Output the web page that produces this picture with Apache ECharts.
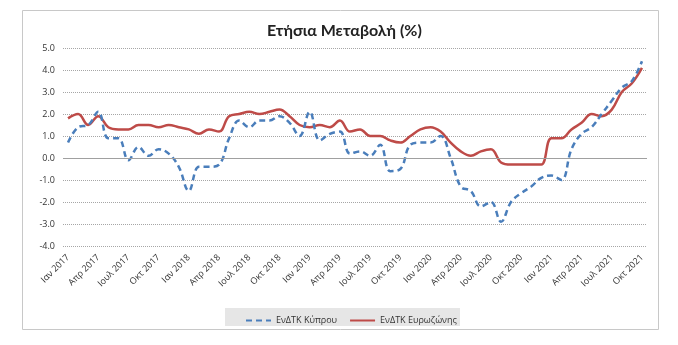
<!DOCTYPE html>
<html>
<head>
<meta charset="utf-8">
<script src="https://cdn.jsdelivr.net/npm/echarts@6/dist/echarts.min.js"></script>
<style>
html,body{margin:0;padding:0;background:#fff;}
#chart{width:678px;height:345px;}
</style>
</head>
<body>
<div id="chart"></div>
<script>
var months = ['Ιαν','Φεβ','Μαρ','Απρ','Μαϊ','Ιουν','Ιουλ','Αυγ','Σεπ','Οκτ','Νοε','Δεκ'];
var years = [2017, 2018, 2019, 2020, 2021];
var categories = [];
years.forEach(function(y){
  for (var m = 0; m < 12; m++) {
    if (y === 2021 && m > 9) break;
    categories.push(months[m] + ' ' + y);
  }
});

var cyprus = [
  0.7, 1.4, 1.5, 2.1, 0.9, 0.9, -0.1, 0.5, 0.1, 0.4, 0.2, -0.4,
  -1.5, -0.4, -0.4, -0.3, 0.9, 1.7, 1.4, 1.7, 1.7, 1.9, 1.6, 1.0,
  2.1, 0.8, 1.1, 1.2, 0.2, 0.3, 0.1, 0.6, -0.6, -0.5, 0.6, 0.7,
  0.7, 1.0, 0.0, -1.3, -1.5, -2.2, -2.0, -2.9, -2.0, -1.6, -1.3, -0.9,
  -0.8, -1.0, 0.4, 1.1, 1.4, 2.0, 2.6, 3.2, 3.5, 4.4
];
var eurozone = [
  1.8, 2.0, 1.5, 1.9, 1.4, 1.3, 1.3, 1.5, 1.5, 1.4, 1.5, 1.4,
  1.3, 1.1, 1.3, 1.2, 1.9, 2.0, 2.1, 2.0, 2.1, 2.2, 1.9, 1.5,
  1.4, 1.5, 1.4, 1.7, 1.2, 1.3, 1.0, 1.0, 0.8, 0.7, 1.0, 1.3,
  1.4, 1.2, 0.7, 0.3, 0.1, 0.3, 0.4, -0.2, -0.3, -0.3, -0.3, -0.3,
  0.9, 0.9, 1.3, 1.6, 2.0, 1.9, 2.2, 3.0, 3.4, 4.1
];
var seriesNames = ['ΕνΔΤΚ Κύπρου', 'ΕνΔΤΚ Ευρωζώνης'];
var titleText = 'Ετήσια Μεταβολή (%)';

var FONT = '"Open Sans", "Noto Sans", sans-serif';
var chart = echarts.init(document.getElementById('chart'), null, {renderer:'canvas'});
chart.setOption({
  animation: false,
  backgroundColor: '#ffffff',
  graphic: [{
    type: 'rect', silent: true, z: -1,
    shape: {x: 22.5, y: 10.5, width: 636, height: 319},
    style: {fill: '#ffffff', stroke: '#c8c8c8', lineWidth: 1}
  }, {
    type: 'rect', silent: true, z: 0,
    shape: {x: 225, y: 308, width: 235, height: 18},
    style: {fill: '#e6e6e6'}
  }],
  title: {
    text: titleText,
    left: 262, top: 18,
    textStyle: {fontFamily: 'Lato, "Open Sans", sans-serif', fontSize: 16, fontWeight: 'bold', color: '#222'}
  },
  legend: {
    data: seriesNames,
    left: 240, top: 311,
    itemWidth: 25, itemHeight: 10, itemGap: 12,
    itemStyle: {opacity: 0},
    textStyle: {fontFamily: FONT, fontSize: 9, color: '#333'}
  },
  grid: {left: 63, right: 31, top: 48, bottom: 99},
  xAxis: {
    type: 'category',
    data: categories,
    boundaryGap: true,
    axisLine: {show: false},
    axisTick: {show: false},
    axisLabel: {
      interval: 2, rotate: 45, margin: 10,
      fontFamily: FONT, fontSize: 9, color: '#333'
    },
    splitLine: {show: false}
  },
  yAxis: {
    type: 'value',
    min: -4, max: 5, interval: 1,
    axisLine: {show: false},
    axisTick: {show: false},
    axisLabel: {
      margin: 8, fontFamily: FONT, fontSize: 9, color: '#333',
      formatter: function(v){ return v.toFixed(1); }
    },
    splitLine: {lineStyle: {color: '#a6a6a6', type: 'dotted', width: 1}}
  },
  series: [{
    name: seriesNames[0],
    type: 'line',
    data: cyprus,
    smooth: 0.4,
    symbol: 'none',
    z: 3,
    itemStyle: {color: '#4a7ebb'},
    lineStyle: {color: '#4a7ebb', width: 2.5, type: [6, 4]},
    markLine: {
      silent: true, symbol: 'none', label: {show: false},
      lineStyle: {color: '#a0a0a0', type: 'solid', width: 1},
      data: [{yAxis: 0}]
    }
  }, {
    name: seriesNames[1],
    type: 'line',
    data: eurozone,
    smooth: 0.4,
    symbol: 'none',
    z: 2,
    itemStyle: {color: '#be4b48'},
    lineStyle: {color: '#be4b48', width: 2.5}
  }]
});
</script>
</body>
</html>
